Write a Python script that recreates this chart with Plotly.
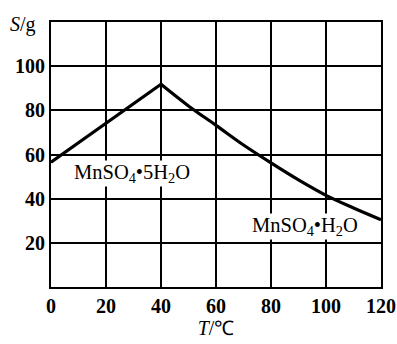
import plotly.graph_objects as go

# rising branch (MnSO4·5H2O)
t_rise = [0, 20, 40]
s_rise = [56.5, 74.2, 91.8]
# falling branch (MnSO4·H2O)
t_fall = [40, 50, 60, 70, 80, 90, 100, 110, 120]
s_fall = [91.8, 82.0, 73.2, 64.3, 56.2, 48.5, 41.5, 35.8, 30.5]

x_ticks = [0, 20, 40, 60, 80, 100, 120]
y_ticks = [20, 40, 60, 80, 100]

font_family = "Liberation Serif"

fig = go.Figure()
fig.add_trace(go.Scatter(x=t_rise, y=s_rise, mode="lines",
                         line=dict(color="black", width=3.2), showlegend=False))
fig.add_trace(go.Scatter(x=t_fall, y=s_fall, mode="lines",
                         line=dict(color="black", width=3.2, shape="spline"), showlegend=False))

fig.add_annotation(x=29.5, y=51.3, text="MnSO<sub>4</sub>•5H<sub>2</sub>O", showarrow=False,
                   bgcolor="white", borderpad=0,
                   font=dict(family=font_family, size=20.5, color="black"))
fig.add_annotation(x=92.5, y=27.3, text="MnSO<sub>4</sub>•H<sub>2</sub>O", showarrow=False,
                   bgcolor="white", borderpad=0,
                   font=dict(family=font_family, size=20.5, color="black"))
fig.add_annotation(xref="paper", yref="paper", x=-0.04, y=0.99, text="<i>S</i>/g",
                   showarrow=False, xanchor="right", yanchor="middle",
                   font=dict(family=font_family, size=20, color="black"))

tickfont = dict(family=font_family, size=20, color="black", weight="bold")

fig.update_xaxes(range=[0, 120], tickvals=x_ticks, showgrid=True, gridcolor="black",
                 gridwidth=2, showline=True, linecolor="black", linewidth=2, mirror=True,
                 zeroline=False, ticks="", ticklen=0, automargin=False,
                 tickfont=tickfont,
                 title=dict(text="<i>T</i>/℃", font=dict(family=font_family, size=20, color="black"),
                            standoff=4))
fig.update_yaxes(range=[0, 120], tickvals=y_ticks, showgrid=True, gridcolor="black",
                 gridwidth=2, showline=True, linecolor="black", linewidth=2, mirror=True,
                 zeroline=False, ticks="", ticklen=0, automargin=False,
                 tickfont=tickfont)

fig.update_layout(width=397, height=344, margin=dict(l=51, r=16, t=22, b=57),
                  plot_bgcolor="white", paper_bgcolor="white")

fig.write_html("out.html", config={"displayModeBar": False},
               post_script="document.body.style.margin='0';")
